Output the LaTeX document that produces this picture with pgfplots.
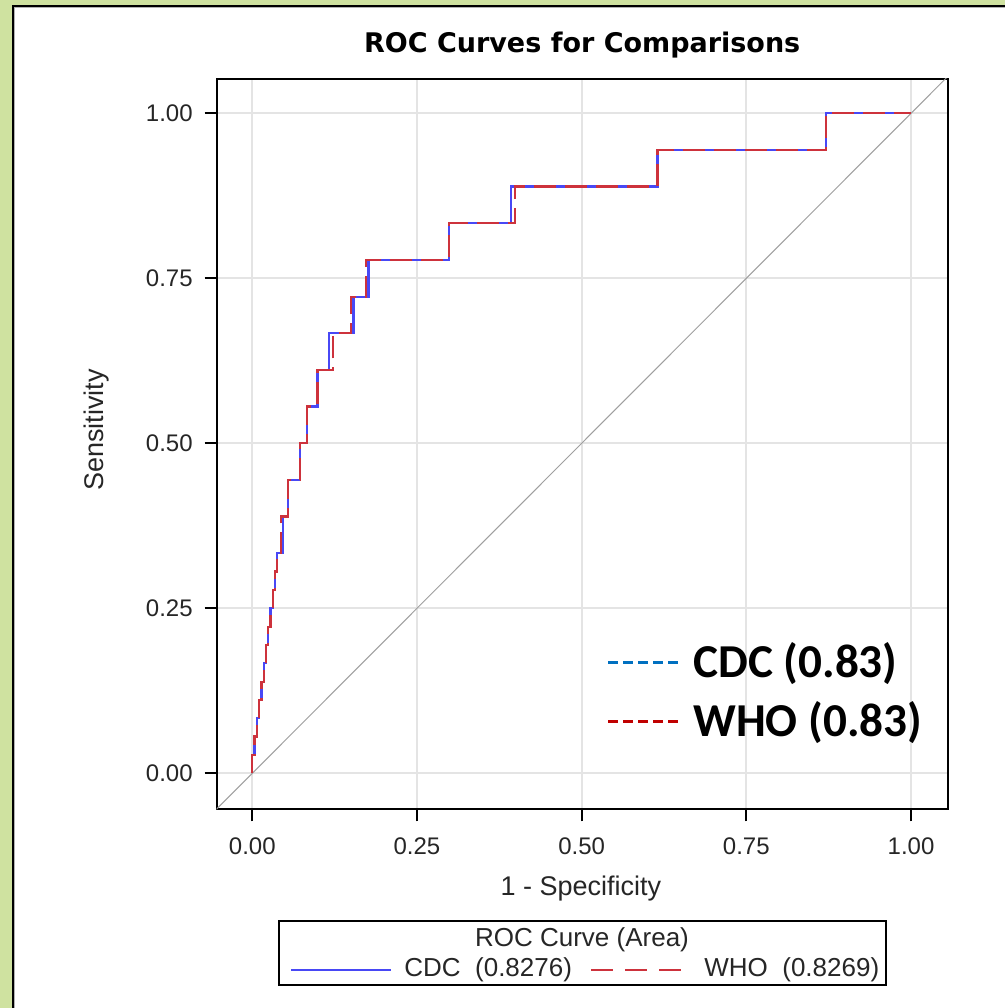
\documentclass[border=0pt]{standalone}
\usepackage{pgfplots}
\pgfplotsset{compat=1.18}
\usepackage{fontspec}
\setmainfont{Liberation Sans}
\newfontfamily\titlefont{DejaVu Sans}
\newfontfamily\calfont{Carlito}
\definecolor{bggreen}{RGB}{207,226,160}
\definecolor{cdcblue}{RGB}{72,72,245}
\definecolor{whored}{RGB}{205,50,60}
\definecolor{annblue}{RGB}{0,112,192}
\definecolor{annred}{RGB}{192,0,0}
\definecolor{gridgray}{RGB}{228,228,228}
\begin{document}
\begin{tikzpicture}[x=1pt,y=1pt]
% background panel
\fill[bggreen] (0,0) rectangle (502.5,504);
\fill[white] (7,0) rectangle (502.5,500.5);
\draw[black,line width=1pt] (6.5,0) -- (6.5,500.75) -- (502.5,500.75);
\draw[gray!60,line width=0.4pt] (7.2,0) -- (7.2,500.05) -- (502.5,500.05);

\begin{axis}[
  at={(108.35pt,99.35pt)}, anchor=south west,
  scale only axis, width=365.5pt, height=365.15pt,
  xmin=-0.054, xmax=1.0557, ymin=-0.0545, ymax=1.052,
  xtick={0,0.25,0.5,0.75,1}, ytick={0,0.25,0.5,0.75,1},
  xticklabels={0.00,0.25,0.50,0.75,1.00},
  yticklabels={0.00,0.25,0.50,0.75,1.00},
  xtick pos=bottom, ytick pos=left,
  tick align=outside, major tick length=6pt,
  tick style={black,line width=1pt},
  axis line style={black,line width=1pt},
  grid=major, grid style={gridgray,line width=1.1pt},
  tick label style={font=\fontsize{12}{14}\selectfont, text=black!85},
  xticklabel style={yshift=-4.5pt},
  yticklabel style={xshift=-2.5pt},
  /pgf/number format/assume math mode=true,
]
\addplot[gray!75,line width=0.5pt] coordinates {(-0.06,-0.06) (1.06,1.06)};
% CDC
\addplot[cdcblue,line width=1.15pt] coordinates {
(0,0) (0,0.0278) (0.0035,0.0278) (0.0035,0.0556) (0.0069,0.0556) (0.0069,0.0833)
(0.0104,0.0833) (0.0104,0.1111) (0.0138,0.1111) (0.0138,0.1389) (0.0173,0.1389)
(0.0173,0.1667) (0.0207,0.1667) (0.0207,0.1944) (0.0242,0.1944) (0.0242,0.2222)
(0.0276,0.2222) (0.0276,0.25) (0.0311,0.25) (0.0311,0.2778) (0.0345,0.2778)
(0.0345,0.3056) (0.038,0.3056) (0.038,0.3333) (0.047,0.3333) (0.047,0.3889)
(0.0538,0.3889) (0.0538,0.4444) (0.0725,0.4444) (0.0725,0.5) (0.0827,0.5)
(0.0827,0.5556) (0.0989,0.5556) (0.0989,0.6111) (0.117,0.6111) (0.117,0.6667)
(0.1537,0.6667) (0.1537,0.7222) (0.1765,0.7222) (0.1765,0.7778) (0.299,0.7778)
(0.299,0.8333) (0.393,0.8333) (0.393,0.8889) (0.615,0.8889) (0.615,0.9444)
(0.871,0.9444) (0.871,1) (1,1)
};
% WHO
\addplot[whored,line width=1.15pt,dash pattern=on 11pt off 4.5pt] coordinates {
(0,0) (0,0.0278) (0.0035,0.0278) (0.0035,0.0556) (0.0069,0.0556) (0.0069,0.0833)
(0.0104,0.0833) (0.0104,0.1111) (0.0138,0.1111) (0.0138,0.1389) (0.0173,0.1389)
(0.0173,0.1667) (0.0207,0.1667) (0.0207,0.1944) (0.0242,0.1944) (0.0242,0.2222)
(0.0276,0.2222) (0.0276,0.25) (0.0311,0.25) (0.0311,0.2778) (0.0345,0.2778)
(0.0345,0.3056) (0.038,0.3056) (0.038,0.3333) (0.0436,0.3333) (0.0436,0.3889)
(0.0538,0.3889) (0.0538,0.4444) (0.0725,0.4444) (0.0725,0.5) (0.0827,0.5)
(0.0827,0.5556) (0.0989,0.5556) (0.0989,0.6111) (0.123,0.6111) (0.123,0.6667)
(0.150,0.6667) (0.150,0.7222) (0.1724,0.7222) (0.1724,0.7778) (0.299,0.7778)
(0.299,0.8333) (0.399,0.8333) (0.399,0.8889) (0.615,0.8889) (0.615,0.9444)
(0.871,0.9444) (0.871,1) (1,1)
};
\end{axis}

% title and axis labels
\node[anchor=base, inner sep=0, font=\titlefont\bfseries\fontsize{13.5}{16}\selectfont] at (291.1,477.6) {ROC Curves for Comparisons};
\node[inner sep=0, font=\fontsize{13.5}{16}\selectfont, text=black!85] at (290.5,59.5) {1 - Specificity};
\node[inner sep=0, rotate=90, font=\fontsize{13.5}{16}\selectfont, text=black!85] at (48.5,289) {Sensitivity};

% SAS legend
\draw[black,line width=0.8pt] (139.5,11.5) rectangle (443,43.5);
\node[inner sep=0, font=\fontsize{13}{15}\selectfont, text=black!85] at (291,34) {ROC Curve (Area)};
\draw[cdcblue,line width=0.9pt] (145.5,19) -- (195.5,19);
\node[anchor=west, inner sep=0, font=\fontsize{13}{15}\selectfont, text=black!85] at (202,19) {CDC\ \ (0.8276)};
\draw[whored,line width=0.9pt,dash pattern=on 11pt off 6pt] (295.5,19) -- (340.5,19);
\node[anchor=west, inner sep=0, font=\fontsize{13}{15}\selectfont, text=black!85] at (352,19) {WHO\ \ (0.8269)};

% overlay annotation
\draw[annblue,line width=1.5pt,dash pattern=on 5pt off 2.5pt] (304,172.5) -- (339,172.5);
\node[anchor=base west, inner sep=0, font=\calfont\bfseries\fontsize{23.6}{26}\selectfont] at (346.5,165) {CDC (0.83)};
\draw[annred,line width=1.5pt,dash pattern=on 5pt off 2.5pt] (304,143) -- (339,143);
\node[anchor=base west, inner sep=0, font=\calfont\bfseries\fontsize{23.6}{26}\selectfont] at (346.5,135.5) {WHO (0.83)};

\pgfresetboundingbox
\useasboundingbox (0,0) rectangle (502.5,504);
\end{tikzpicture}
\end{document}
